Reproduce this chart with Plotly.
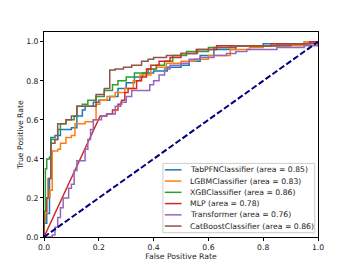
import plotly.graph_objects as go

# ---------------- data ----------------
model_names = ["TabPFNClassifier", "LGBMClassifier", "XGBClassifier", "MLP", "Transformer", "CatBoostClassifier"]
model_auc = [0.85, 0.83, 0.86, 0.78, 0.76, 0.86]
model_colors = ["#1f77b4", "#ff7f0e", "#2ca02c", "#d62728", "#9467bd", "#8c564b"]

tabpfn_fpr = [0, 0, 0.01, 0.02, 0.025, 0.04, 0.06, 0.10, 0.12, 0.14, 0.15, 0.18, 0.20, 0.24, 0.27, 0.30, 0.33, 0.36, 0.40, 0.45, 0.50, 0.53, 0.57, 0.62, 0.70, 0.80, 0.95, 1.0]
tabpfn_tpr = [0, 0.07, 0.12, 0.30, 0.51, 0.52, 0.55, 0.56, 0.62, 0.65, 0.67, 0.69, 0.70, 0.72, 0.76, 0.79, 0.82, 0.84, 0.85, 0.87, 0.88, 0.90, 0.93, 0.96, 0.98, 0.99, 1.0, 1.0]

lgbm_fpr = [0, 0, 0.005, 0.01, 0.022, 0.03, 0.05, 0.06, 0.08, 0.10, 0.113, 0.15, 0.18, 0.19, 0.204, 0.23, 0.26, 0.295, 0.326, 0.35, 0.39, 0.41, 0.447, 0.50, 0.55, 0.60, 0.68, 0.75, 0.80, 0.95, 1.0]
lgbm_tpr = [0, 0.08, 0.12, 0.20, 0.24, 0.44, 0.45, 0.48, 0.51, 0.52, 0.58, 0.59, 0.60, 0.68, 0.70, 0.72, 0.74, 0.76, 0.80, 0.83, 0.86, 0.87, 0.89, 0.90, 0.91, 0.93, 0.96, 0.97, 0.98, 1.0, 1.0]

xgb_fpr = [0, 0, 0.005, 0.01, 0.02, 0.025, 0.05, 0.06, 0.08, 0.11, 0.12, 0.14, 0.16, 0.19, 0.22, 0.25, 0.27, 0.30, 0.33, 0.38, 0.41, 0.44, 0.47, 0.52, 0.60, 0.68, 0.85, 0.97, 1.0]
xgb_tpr = [0, 0.13, 0.35, 0.40, 0.41, 0.50, 0.55, 0.58, 0.60, 0.62, 0.67, 0.68, 0.70, 0.72, 0.75, 0.78, 0.80, 0.82, 0.84, 0.86, 0.88, 0.90, 0.93, 0.95, 0.97, 0.98, 0.99, 1.0, 1.0]

mlp_fpr = [0, 0.205, 0.228, 0.25, 0.27, 0.283, 0.295, 0.307, 0.338, 0.356, 0.374, 0.39, 0.42, 0.46, 0.50, 0.556, 0.63, 0.83, 0.97, 1.0]
mlp_tpr = [0, 0.62, 0.63, 0.65, 0.68, 0.70, 0.74, 0.76, 0.80, 0.82, 0.86, 0.88, 0.90, 0.92, 0.94, 0.96, 0.98, 0.99, 1.0, 1.0]

transformer_fpr = [0, 0.03, 0.04, 0.05, 0.06, 0.07, 0.09, 0.10, 0.11, 0.12, 0.15, 0.16, 0.17, 0.18, 0.21, 0.23, 0.26, 0.28, 0.30, 0.32, 0.386, 0.40, 0.42, 0.44, 0.46, 0.50, 0.53, 0.57, 0.62, 0.666, 0.70, 0.74, 0.85, 0.95, 1.0]
transformer_tpr = [0, 0.01, 0.05, 0.10, 0.15, 0.20, 0.25, 0.27, 0.34, 0.39, 0.45, 0.50, 0.55, 0.60, 0.62, 0.63, 0.67, 0.69, 0.72, 0.75, 0.78, 0.80, 0.83, 0.86, 0.88, 0.89, 0.91, 0.92, 0.93, 0.94, 0.95, 0.96, 0.97, 0.98, 1.0]

catboost_fpr = [0, 0, 0.01, 0.015, 0.025, 0.04, 0.05, 0.08, 0.10, 0.12, 0.19, 0.22, 0.24, 0.26, 0.29, 0.32, 0.356, 0.38, 0.40, 0.447, 0.50, 0.56, 0.62, 0.70, 0.90, 1.0]
catboost_tpr = [0, 0.13, 0.20, 0.30, 0.48, 0.50, 0.58, 0.60, 0.62, 0.67, 0.73, 0.76, 0.855, 0.86, 0.87, 0.88, 0.90, 0.91, 0.92, 0.93, 0.94, 0.96, 0.97, 0.98, 0.99, 1.0]

all_fpr = [tabpfn_fpr, lgbm_fpr, xgb_fpr, mlp_fpr, transformer_fpr, catboost_fpr]
all_tpr = [tabpfn_tpr, lgbm_tpr, xgb_tpr, mlp_tpr, transformer_tpr, catboost_tpr]
diag_first = [False, False, False, True, False, False]

chance_x = [0, 1]
chance_y = [0, 1]

x_ticks = [0.0, 0.2, 0.4, 0.6, 0.8, 1.0]
y_ticks = [0.0, 0.2, 0.4, 0.6, 0.8, 1.0]


def step_path(fpr, tpr, diagonal_first):
    """Build ROC corner points: horizontal move then vertical jump."""
    xs, ys = [fpr[0]], [tpr[0]]
    for i in range(1, len(fpr)):
        if not (diagonal_first and i == 1):
            xs.append(fpr[i])
            ys.append(tpr[i - 1])
        xs.append(fpr[i])
        ys.append(tpr[i])
    return xs, ys


FONT = "DejaVu Sans"
FS = 7.7

fig = go.Figure()
for name, auc, col, fpr, tpr, dg in zip(model_names, model_auc, model_colors, all_fpr, all_tpr, diag_first):
    xs, ys = step_path(fpr, tpr, dg)
    fig.add_trace(go.Scatter(x=xs, y=ys, mode="lines", line=dict(color=col, width=1.5),
                             name=f"{name} (area = {auc:.2f})", showlegend=False))

fig.add_trace(go.Scatter(x=chance_x, y=chance_y, mode="lines",
                         line=dict(color="navy", width=2, dash="6px,2.5px"), showlegend=False))

# manual legend (matplotlib-like compact box)
leg_x0, leg_x1 = 0.434, 0.988
leg_y0, leg_y1 = 0.022, 0.377
row0, row_step = 0.344, 0.0576
fig.add_shape(type="rect", xref="x", yref="y", x0=leg_x0, x1=leg_x1, y0=leg_y0, y1=leg_y1,
              line=dict(color="#cccccc", width=1), fillcolor="rgba(255,255,255,0.8)", layer="above")
for i, (name, auc, col) in enumerate(zip(model_names, model_auc, model_colors)):
    yy = row0 - i * row_step
    fig.add_shape(type="line", xref="x", yref="y", x0=0.441, x1=0.502, y0=yy, y1=yy,
                  line=dict(color=col, width=1.5), layer="above")
    fig.add_annotation(xref="x", yref="y", x=0.525, y=yy, text=f"{name} (area = {auc:.2f})",
                       showarrow=False, xanchor="left", yanchor="middle",
                       font=dict(family=FONT, size=FS, color="#222"))

axis_common = dict(showline=True, linecolor="black", linewidth=1, mirror=True,
                   ticks="outside", ticklen=3, tickwidth=1, tickcolor="black",
                   showgrid=False, zeroline=False, tickformat=".1f", automargin=False,
                   tickfont=dict(family=FONT, size=FS, color="#222"))

fig.update_xaxes(range=[0, 1.0], tickvals=x_ticks, **axis_common,
                 title=dict(text="False Positive Rate", standoff=2,
                            font=dict(family=FONT, size=FS, color="#222")))
fig.update_yaxes(range=[0, 1.05], tickvals=y_ticks, **axis_common,
                 title=dict(text="True Positive Rate", standoff=1,
                            font=dict(family=FONT, size=FS, color="#222")))

fig.update_layout(width=354, height=266, margin=dict(l=44, r=36, t=32, b=29),
                  paper_bgcolor="white", plot_bgcolor="white", showlegend=False)

fig.write_html("out.html", config={"displayModeBar": False},
               post_script="document.body.style.margin='0';document.body.style.overflow='hidden';")
